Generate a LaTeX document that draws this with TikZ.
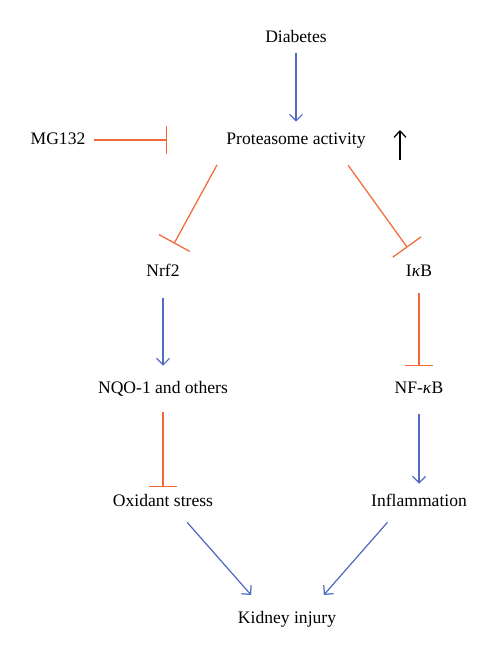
\documentclass[tikz,border=0pt]{standalone}
\usepackage{fontspec}
\setmainfont{Liberation Serif}
\usetikzlibrary{arrows.meta}
\usetikzlibrary{positioning}
\definecolor{actblue}{RGB}{80,105,195}
\definecolor{inhorange}{RGB}{240,105,55}
\begin{document}
\begin{tikzpicture}[
    on grid,
    item/.style={
        inner sep=0pt,
        text height=7pt, text depth=2pt,
        font=\fontsize{10}{12}\selectfont
    },
    activate/.style={draw=actblue, line width=0.7pt, -{Straight Barb[length=1.3mm,width=2.6mm]}},
    inhibit/.style={draw=inhorange, line width=0.7pt, -{Bar[width=5.6mm]}},
    inhibitd/.style={draw=inhorange, line width=0.7pt, -{Bar[width=7mm]}}
]
\useasboundingbox (0,0) rectangle (10,-13.2);
\node[item] (diab) at (5.92,-0.76) {Diabetes};
\node[item, below=2.04cm of diab] (prot) {Proteasome activity};
\node[item, left=4.76cm of prot] (mg) {MG132};
\node[item, below left=2.64cm and 2.66cm of prot] (nrf) {Nrf2};
\node[item, below right=2.64cm and 2.46cm of prot] (ikb) {I\textit{κ}B};
\node[item, below=2.34cm of nrf] (nqo) {NQO-1 and others};
\node[item, below=2.34cm of ikb] (nfkb) {NF-\textit{κ}B};
\node[item, below=2.26cm of nqo] (ox) {Oxidant stress};
\node[item, below=2.26cm of nfkb] (infl) {Inflammation};
\node[item, below right=2.34cm and 2.48cm of ox] (kid) {Kidney injury};
\coordinate[left=2.58cm of prot] (mgstop);
\coordinate[below right=0.4cm and 2.08cm of prot] (riselo);
\coordinate[above right=0.2cm and 2.08cm of prot] (risehi);
\draw[activate, shorten <=0.14cm, shorten >=0.2cm] (diab) -- (prot);
\draw[inhibit, shorten <=0.16cm] (mg) -- (mgstop);
\draw[line width=0.7pt, -{Straight Barb[length=1.3mm,width=2.4mm]}] (riselo) -- (risehi);
\draw[inhibitd, shorten <=0.38cm, shorten >=0.46cm] (prot.south west) -- (nrf.north);
\draw[inhibitd, shorten <=0.42cm, shorten >=0.4cm] ([xshift=-0.6cm]prot.south east) -- (ikb.north);
\draw[activate, shorten <=0.36cm, shorten >=0.3cm] (nrf) -- (nqo);
\draw[inhibit, shorten <=0.26cm, shorten >=0.3cm] (ikb) -- (nfkb);
\draw[inhibit, shorten <=0.3cm, shorten >=0.14cm] (nqo) -- (ox);
\draw[activate, shorten <=0.34cm, shorten >=0.2cm] (nfkb) -- (infl);
\draw[activate, shorten <=0.32cm, shorten >=0.42cm] ([xshift=0.27cm]ox.south) -- ([xshift=-0.44cm]kid.north);
\draw[activate, shorten <=0.32cm, shorten >=0.42cm] ([xshift=-0.42cm]infl.south) -- ([xshift=0.46cm]kid.north);
\end{tikzpicture}
\end{document}
